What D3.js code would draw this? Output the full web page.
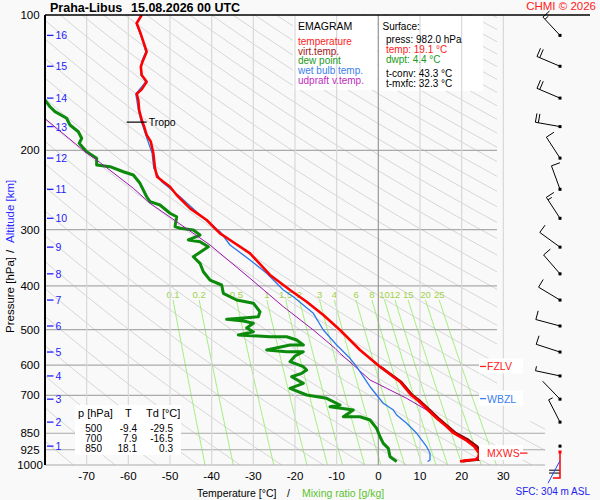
<!DOCTYPE html>
<html>
<head>
<meta charset="utf-8">
<script src="https://cdn.jsdelivr.net/npm/d3@7"></script>
<style>
  body { margin: 0; background: #f9f9f9; }
  svg { display: block; }
  text { font-family: "Liberation Sans", Arial, sans-serif; }
</style>
</head>
<body>
<div id="content"></div>
<script>
var pressureTicks = [100, 200, 300, 400, 500, 600, 700, 850, 925, 1000];
var tempTicks = [-70, -60, -50, -40, -30, -20, -10, 0, 10, 20, 30];
var altitudeKm = [1, 2, 3, 4, 5, 6, 7, 8, 9, 10, 11, 12, 13, 14, 15, 16];
var altitudePressure = [908, 803, 714, 634, 561, 491, 430, 376, 328, 283, 244, 208, 177, 153, 130, 111];
var mixingRatios = [0.1, 0.2, 0.5, 1, 1.5, 2, 3, 4, 6, 8, 10, 12, 15, 20, 25];

// [pressure hPa, temperature °C]
var temperature = [[100, -56.8], [104.3, -58.0], [108.9, -57.2], [114.6, -56.4], [120.7, -55.6], [127, -56.6],
  [130.3, -57.0], [135.9, -56.8], [140.7, -55.6], [146.3, -56.8], [149.8, -58.0], [154.5, -57.6], [162.6, -57.4],
  [171.1, -56.8], [177.1, -56.2], [184.8, -55.6], [191.2, -54.6], [202.9, -54.0], [219.1, -53.6], [228.7, -53.1],
  [234.7, -51.6], [240.8, -50.0], [251.2, -48.4], [268.9, -45.2], [285.5, -41.2], [305.6, -38.0], [316.2, -35.6],
  [338.5, -30.8], [378.2, -26.0], [408.4, -21.2], [433.6, -17.2], [464.2, -13.2], [501.2, -9.2], [555.2, -4.4],
  [604.7, 0.4], [653, 5.2], [700, 7.9], [717, 9.4], [750, 11.6], [787.5, 14.0], [820, 16.3], [850, 18.1],
  [880, 21.0], [910, 23.0], [942, 24.2], [960, 24.0], [972, 23.4], [978, 20.4], [982, 19.6]];

var virtualTemp = [[604.7, 0.5], [653, 5.4], [700, 8.2], [717, 9.7], [787.5, 14.4], [850, 18.6], [880, 21.6],
  [910, 23.7], [942, 25.0], [962, 24.9], [972, 24.2], [978, 21.2], [982, 20.2]];

var dewPoint = [[152, -80.6], [159.9, -78.8], [164.0, -77.6], [169.6, -74.8], [175.6, -74.0], [181.7, -72.0],
  [187.9, -71.2], [192.8, -71.8], [201.3, -70.0], [208.2, -67.6], [215.4, -67.6], [217.3, -64.4], [223.0, -61.2],
  [226.8, -58.8], [236.6, -57.2], [253.4, -55.6], [259.9, -54.8], [264.4, -52.4], [275.8, -50.0], [280.7, -48.4],
  [295.4, -48.8], [297.8, -47.6], [300.5, -44.4], [308.3, -42.8], [316.2, -45.6], [319.0, -42.8], [327.3, -40.8],
  [344.5, -44.4], [356.3, -42.8], [371.9, -42.0], [388.1, -40.4], [398.1, -37.6], [415.4, -37.2], [429.9, -34.0],
  [437.2, -30.0], [456.4, -28.4], [468.2, -28.8], [474.5, -36.4], [478.6, -32.4], [484.3, -30.0], [496.1, -31.6],
  [505.6, -30.0], [514.2, -33.6], [518.7, -26.0], [518.7, -22.0], [527.5, -19.6], [541.2, -18.0], [541.2, -21.2],
  [555.2, -26.8], [560.0, -22.0], [560.0, -18.0], [572.5, -20.0], [589.4, -21.2], [604.7, -18.0], [615.0, -17.2],
  [625.5, -18.4], [636.5, -20.8], [658.4, -18.0], [675.4, -21.2], [699.0, -17.2], [710.9, -12.4], [735.7, -9.2],
  [742.1, -11.6], [754.8, -6.0], [781.1, -8.4], [781.1, -4.4], [794.4, -2.0], [828.9, -0.4], [865.3, 0.4],
  [895.1, 1.2], [918.3, 2.4], [958.6, 2.8], [982, 4.4]];

var wetBulb = [[100, -56.9], [104.3, -58.1], [114.6, -56.5], [120.7, -55.8], [127, -56.8], [135.9, -57.0],
  [140.7, -55.8], [149.8, -58.2], [162.6, -57.6], [171.1, -57.0], [184.8, -55.8], [202.9, -54.3], [219.1, -53.9],
  [234.7, -52.0], [240.8, -50.5], [253.4, -47.6], [278.3, -42.8], [303.1, -38.0], [324.4, -35.6], [350.3, -30.8],
  [375.0, -26.8], [408.4, -22.8], [422.7, -20.4], [441.0, -18.0], [460.2, -15.6], [501.2, -13.2], [541.2, -10.0],
  [579.3, -6.8], [604.7, -5.2], [636.5, -3.6], [670.0, -2.0], [699.0, -0.4], [729.3, 1.2], [754.8, 3.6],
  [774.3, 4.4], [807.9, 6.8], [850.3, 9.2], [910.6, 11.6], [941.9, 12.4], [974.7, 12.4], [982, 11.8]];

var parcel = [[167, -81.0], [201.3, -70.4], [210, -67.6], [242.7, -58.8], [262.1, -54.8], [288, -48.4],
  [324.4, -40.4], [384.7, -30.8], [444.8, -22.8], [501.2, -15.6], [550.4, -10.4], [564.7, -9.2], [599.5, -6.0],
  [647.3, -2.0], [675.4, 2.0], [710.9, 6.8], [754.8, 11.6], [787.5, 14.0]];

// wind at each km: direction (deg, from) and speed (kt)
var windDir = [0, 333, 316, 282, 288, 285, 301, 319, 306, 327, 340, 327, 280, 293, 293, 317];
var windSpeed = [0, 5, 3, 5, 10, 10, 10, 10, 10, 15, 10, 10, 20, 20, 20, 15];

// lowest layer mini profile
var miniRed = [[4.7, 0], [0, 0], [0, 10]];
var miniBlue = [[8, -2], [0, 6.7]];
var miniBlack = [[[7.3, 3], [0, 3]], [[7.3, 1.9], [0, 1.9]]];

var tropoPressure = 173, tropoTemp = -56.8;
var fzlvPressure = 604, wbzlPressure = 712, mxwsPressure = 941;

var surfacePressure = 982.0, surfaceTemp = 19.1, surfaceDewpoint = 4.4;
var tConv = 43.3, tMxfc = 32.3, stationHeight = 304;
var tableLevels = [500, 700, 850];
var tableT = [-9.4, 7.9, 18.1];
var tableTd = [-29.5, -16.5, 0.3];

// ---- Layout ----
var svgWidth = 600, svgHeight = 500;
var plotLeft = 45, plotRight = 545, plotTop = 15, plotBottom = 465;
var gridRight = 497;
var windX = 560;

var xScale = d3.scaleLinear().domain([-80, 40]).range([plotLeft, plotRight]);
var yScale = d3.scaleLog().domain([100, 1000]).range([plotTop, plotBottom]);

var svg = d3.select("#content").append("svg")
    .attr("width", svgWidth)
    .attr("height", svgHeight);

svg.append("rect").attr("width", svgWidth).attr("height", svgHeight).attr("fill", "#f9f9f9");

var defs = svg.append("defs");
defs.append("clipPath").attr("id", "plot-clip")
    .append("rect")
    .attr("x", plotLeft).attr("y", plotTop)
    .attr("width", plotRight - plotLeft).attr("height", plotBottom - plotTop);
defs.append("clipPath").attr("id", "grid-clip")
    .append("path")
    .attr("d", "M" + plotLeft + "," + plotTop + "H" + gridRight + "V" + yScale(800) +
        "H" + plotRight + "V" + plotBottom + "H" + plotLeft + "Z");

var line = d3.line()
    .x(function (d) { return xScale(d[1]); })
    .y(function (d) { return yScale(d[0]); });

// Dry adiabats every 10 K
var gridG = svg.append("g").attr("clip-path", "url(#grid-clip)");
var adiabatP = d3.range(100, 1001, 10);
d3.range(200, 610, 10).forEach(function (theta) {
    var pts = adiabatP.map(function (p) { return [p, theta * Math.pow(p / 1000, 0.2857) - 273.15]; });
    gridG.append("path")
        .attr("d", line(pts))
        .attr("fill", "none")
        .attr("stroke", "#d6d6d6")
        .attr("stroke-width", 1);
});

// Mixing ratio lines
function mixingTemp(w, p) {
    var e = w * p / (622 + w);
    var a = Math.log(e / 6.112);
    return 243.5 * a / (17.67 - a);
}
var mixTop = 430;
var mixP = d3.range(mixTop, 1001, 10);
mixingRatios.forEach(function (w) {
    var pts = mixP.map(function (p) { return [p, mixingTemp(w, p)]; });
    gridG.append("path")
        .attr("d", line(pts))
        .attr("fill", "none")
        .attr("stroke", "#a3ee7c")
        .attr("stroke-width", 1);
    svg.append("text")
        .attr("x", xScale(mixingTemp(w, mixTop)))
        .attr("y", yScale(mixTop) - 2)
        .attr("text-anchor", "middle")
        .attr("font-size", "9.5px")
        .attr("fill", "#a2d24a")
        .text(w);
});

// Isobars
svg.selectAll(".isobar")
    .data(pressureTicks.slice(1))
    .enter().append("line")
    .attr("class", "isobar")
    .attr("x1", plotLeft)
    .attr("x2", function (p) { return p >= 800 ? plotRight : gridRight; })
    .attr("y1", function (p) { return yScale(p); })
    .attr("y2", function (p) { return yScale(p); })
    .attr("stroke", "#aaaaaa")
    .attr("stroke-width", 1.2);

// Legend boxes
svg.append("rect").attr("x", 293).attr("y", 16).attr("width", 84).attr("height", 74).attr("fill", "#ffffff");
svg.append("rect").attr("x", 379).attr("y", 16).attr("width", 104).attr("height", 75).attr("fill", "#ffffff");

// Isotherms
svg.selectAll(".isotherm")
    .data(tempTicks)
    .enter().append("line")
    .attr("class", "isotherm")
    .attr("x1", function (t) { return xScale(t); })
    .attr("x2", function (t) { return xScale(t); })
    .attr("y1", plotTop)
    .attr("y2", plotBottom)
    .attr("stroke", function (t) { return t === 0 ? "#999999" : "#d8d8d8"; })
    .attr("stroke-width", 1.2);

// Profiles
var profG = svg.append("g").attr("clip-path", "url(#plot-clip)");
function drawProfile(data, color, width) {
    profG.append("path")
        .attr("d", line(data))
        .attr("fill", "none")
        .attr("stroke", color)
        .attr("stroke-width", width)
        .attr("stroke-linejoin", "round");
}
drawProfile(dewPoint, "#0b8a0b", 3);
drawProfile(parcel, "#a010b0", 1);
drawProfile(wetBulb, "#2a78ea", 1.3);
drawProfile(virtualTemp, "#8b0000", 2.6);
drawProfile(temperature, "#ff0000", 2.6);

// Table box (lower left)
svg.append("rect").attr("x", 75).attr("y", 405).attr("width", 106).attr("height", 50).attr("fill", "#ffffff");
var tHead = svg.append("g").attr("font-size", "11px").attr("fill", "#000");
tHead.append("text").attr("x", 78).attr("y", 417).text("p [hPa]");
tHead.append("text").attr("x", 125).attr("y", 417).text("T");
tHead.append("text").attr("x", 146).attr("y", 417).text("Td [°C]");
tableLevels.forEach(function (p, i) {
    var yy = 432 + i * 10;
    var g = svg.append("g").attr("font-size", "10px").attr("text-anchor", "end");
    g.append("text").attr("x", 102).attr("y", yy).text(p);
    g.append("text").attr("x", 137).attr("y", yy).text(tableT[i].toFixed(1));
    g.append("text").attr("x", 173).attr("y", yy).text(tableTd[i].toFixed(1));
});

// Axes frame
svg.append("line").attr("x1", plotLeft).attr("x2", 590).attr("y1", plotTop).attr("y2", plotTop)
    .attr("stroke", "#000").attr("stroke-width", 1.5);
svg.append("line").attr("x1", plotLeft).attr("x2", plotLeft).attr("y1", plotTop).attr("y2", plotBottom)
    .attr("stroke", "#000").attr("stroke-width", 2);

// Pressure labels
svg.selectAll(".plabel")
    .data(pressureTicks)
    .enter().append("text")
    .attr("class", "plabel")
    .attr("x", 30)
    .attr("y", function (p) { return yScale(p) + 4; })
    .attr("text-anchor", "middle")
    .attr("font-size", "11.5px")
    .text(function (p) { return p; });

// Temperature labels
svg.selectAll(".tlabel")
    .data(tempTicks)
    .enter().append("text")
    .attr("class", "tlabel")
    .attr("x", function (t) { return xScale(t); })
    .attr("y", 480)
    .attr("text-anchor", "middle")
    .attr("font-size", "11.5px")
    .text(function (t) { return t; });

// Altitude ticks
altitudeKm.forEach(function (km, i) {
    var yy = yScale(altitudePressure[i]);
    svg.append("line").attr("x1", 47).attr("x2", 53.5).attr("y1", yy).attr("y2", yy)
        .attr("stroke", "#2222ff").attr("stroke-width", 1.3);
    svg.append("text").attr("x", 55.5).attr("y", yy + 4)
        .attr("font-size", "10.5px").attr("fill", "#2222ff").text(km);
});

// Axis titles
svg.append("text").attr("transform", "translate(13.5,333) rotate(-90)")
    .attr("font-size", "11.5px").attr("fill", "#000").text("Pressure [hPa]");
svg.append("text").attr("transform", "translate(13.5,253) rotate(-90)")
    .attr("font-size", "11.5px").attr("fill", "#000").text("/");
svg.append("text").attr("transform", "translate(13.5,243) rotate(-90)")
    .attr("font-size", "11.5px").attr("fill", "#2b2bff").text("Altitude [km]");

svg.append("text").attr("x", 197).attr("y", 497).attr("font-size", "10.5px").text("Temperature [°C]");
svg.append("text").attr("x", 287).attr("y", 497).attr("font-size", "10.5px").text("/");
svg.append("text").attr("x", 302).attr("y", 497).attr("font-size", "10.5px").attr("fill", "#5cc22e")
    .text("Mixing ratio [g/kg]");

// Title and credits
svg.append("text").attr("x", 50).attr("y", 12).attr("font-size", "12.5px").attr("font-weight", "bold")
    .text("Praha-Libus");
svg.append("text").attr("x", 131).attr("y", 12).attr("font-size", "12.5px").attr("font-weight", "bold")
    .text("15.08.2026 00 UTC");
svg.append("text").attr("x", 596).attr("y", 10).attr("text-anchor", "end").attr("font-size", "11.5px")
    .attr("fill", "#ff2020").text("CHMI © 2026");
svg.append("text").attr("x", 590).attr("y", 495).attr("text-anchor", "end").attr("font-size", "10px")
    .attr("fill", "#2222ee").text("SFC: " + stationHeight + " m ASL");

// Legend
svg.append("text").attr("x", 298).attr("y", 30).attr("font-size", "10.5px").text("EMAGRAM");
var legendItems = [
    ["temperature", "#ff1a1a"],
    ["virt.temp.", "#a31515"],
    ["dew point", "#1a9a1a"],
    ["wet bulb temp.", "#3a7ef0"],
    ["udpraft v.temp.", "#c02cc0"]
];
legendItems.forEach(function (d, i) {
    svg.append("text").attr("x", 298).attr("y", 44.7 + i * 9.85)
        .attr("font-size", "10px").attr("fill", d[1]).text(d[0]);
});

// Surface info
var sfc = svg.append("g").attr("font-size", "10px");
sfc.append("text").attr("x", 382.5).attr("y", 29.5).text("Surface:");
sfc.append("text").attr("x", 386).attr("y", 42.7).text("press: " + surfacePressure.toFixed(1) + " hPa");
sfc.append("text").attr("x", 386).attr("y", 52.7).attr("fill", "#ff1a1a").text("temp: " + surfaceTemp.toFixed(1) + " °C");
sfc.append("text").attr("x", 386).attr("y", 62.7).attr("fill", "#1a9a1a").text("dwpt: " + surfaceDewpoint.toFixed(1) + " °C");
sfc.append("text").attr("x", 386).attr("y", 76.7).text("t-conv: " + tConv.toFixed(1) + " °C");
sfc.append("text").attr("x", 386).attr("y", 86.7).text("t-mxfc: " + tMxfc.toFixed(1) + " °C");

// Tropopause
var ty = yScale(tropoPressure);
svg.append("line").attr("x1", xScale(tropoTemp) - 15).attr("x2", xScale(tropoTemp) + 5)
    .attr("y1", ty).attr("y2", ty).attr("stroke", "#000").attr("stroke-width", 1.2);
svg.append("text").attr("x", xScale(tropoTemp) + 7).attr("y", ty + 4).attr("font-size", "10.5px").text("Tropo");

// Level markers
function levelMarker(p, label, color, dashAfter) {
    var yy = yScale(p);
    svg.append("rect").attr("x", 479).attr("y", yy - 8).attr("width", 44).attr("height", 15).attr("fill", "#ffffff");
    if (dashAfter) {
        svg.append("line").attr("x1", 520).attr("x2", 527.5).attr("y1", yy).attr("y2", yy)
            .attr("stroke", color).attr("stroke-width", 1.3);
    } else {
        svg.append("line").attr("x1", 480).attr("x2", 486).attr("y1", yy).attr("y2", yy)
            .attr("stroke", color).attr("stroke-width", 1.3);
    }
    svg.append("text").attr("x", 487).attr("y", yy + 4).attr("font-size", "10.5px")
        .attr("fill", color).text(label);
}
levelMarker(fzlvPressure, "FZLV", "#ff2020", false);
levelMarker(wbzlPressure, "WBZL", "#3a7ef0", false);
levelMarker(mxwsPressure, "MXWS", "#ff2020", true);

// Wind barbs
var staffLen = 25, barbLen = 9, barbGap = 3;
altitudeKm.forEach(function (km, i) {
    var yy = yScale(altitudePressure[i]);
    var spd = windSpeed[i];
    var g = svg.append("g").attr("stroke", "#000").attr("stroke-width", 1);
    if (spd > 0) {
        var a = windDir[i] * Math.PI / 180;
        var ux = Math.sin(a), uy = -Math.cos(a);
        var px = -uy, py = ux;
        var ex = windX + staffLen * ux, ey = yy + staffLen * uy;
        g.append("line").attr("x1", windX).attr("y1", yy).attr("x2", ex).attr("y2", ey);
        var full = Math.floor(spd / 10);
        var half = (spd % 10) >= 5 ? 1 : 0;
        var k = 0;
        for (var f = 0; f < full; f++, k++) {
            var bx = ex - k * barbGap * ux, by = ey - k * barbGap * uy;
            g.append("line").attr("x1", bx).attr("y1", by)
                .attr("x2", bx + barbLen * px).attr("y2", by + barbLen * py);
        }
        if (half) {
            var hx = ex - k * barbGap * ux, hy = ey - k * barbGap * uy;
            g.append("line").attr("x1", hx).attr("y1", hy)
                .attr("x2", hx + barbLen / 2 * px).attr("y2", hy + barbLen / 2 * py);
        }
    }
    svg.append("rect").attr("x", windX - 1.5).attr("y", yy - 1.5).attr("width", 3).attr("height", 3).attr("fill", "#000");
});

// Lowest layer mini profile
var miniX = d3.scaleLinear().domain([0, 10]).range([windX, windX - 15]);
var miniY = d3.scaleLinear().domain([0, 10]).range([478, 452]);
var miniLine = d3.line().x(function (d) { return miniX(d[0]); }).y(function (d) { return miniY(d[1]); });
miniBlack.forEach(function (seg) {
    svg.append("path").attr("d", miniLine(seg)).attr("stroke", "#000").attr("fill", "none").attr("stroke-width", 1);
});
svg.append("path").attr("d", miniLine(miniRed)).attr("stroke", "#ff0000").attr("fill", "none").attr("stroke-width", 1.5);
svg.append("path").attr("d", miniLine(miniBlue)).attr("stroke", "#2244ff").attr("fill", "none").attr("stroke-width", 1);
svg.append("rect").attr("x", miniX(0) - 1.5).attr("y", miniY(10) - 1.5).attr("width", 3).attr("height", 3).attr("fill", "#ff0000");
</script>
</body>
</html>
